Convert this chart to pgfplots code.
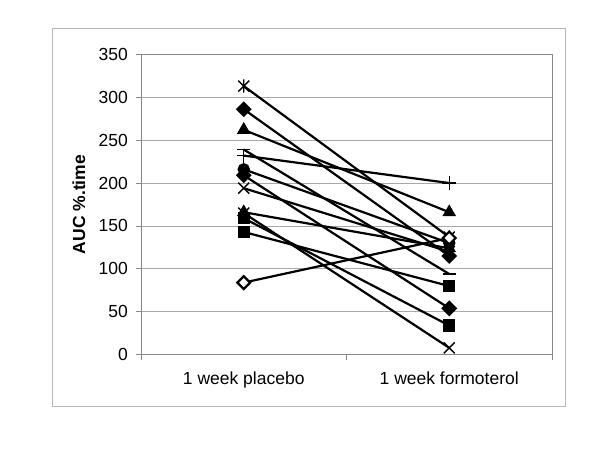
\documentclass[border=0pt]{standalone}
\usepackage{pgfplots}
\pgfplotsset{compat=1.18}
\usepackage{fontspec}
\setmainfont{Liberation Sans}
\pgfdeclareplotmark{xstar}{%
  \pgfpathmoveto{\pgfqpoint{-\pgfplotmarksize}{-\pgfplotmarksize}}%
  \pgfpathlineto{\pgfqpoint{\pgfplotmarksize}{\pgfplotmarksize}}%
  \pgfpathmoveto{\pgfqpoint{-\pgfplotmarksize}{\pgfplotmarksize}}%
  \pgfpathlineto{\pgfqpoint{\pgfplotmarksize}{-\pgfplotmarksize}}%
  \pgfpathmoveto{\pgfqpoint{0pt}{-1.2\pgfplotmarksize}}%
  \pgfpathlineto{\pgfqpoint{0pt}{1.2\pgfplotmarksize}}%
  \pgfusepathqstroke}
\pgfdeclareplotmark{bigx}{%
  \pgfpathmoveto{\pgfqpoint{-\pgfplotmarksize}{-\pgfplotmarksize}}%
  \pgfpathlineto{\pgfqpoint{\pgfplotmarksize}{\pgfplotmarksize}}%
  \pgfpathmoveto{\pgfqpoint{-\pgfplotmarksize}{\pgfplotmarksize}}%
  \pgfpathlineto{\pgfqpoint{\pgfplotmarksize}{-\pgfplotmarksize}}%
  \pgfusepathqstroke}
\definecolor{gridgray}{HTML}{A8A8A8}
\definecolor{axgray}{HTML}{888888}
\definecolor{boxgray}{HTML}{B8B8B8}
\begin{document}
\begin{tikzpicture}
\useasboundingbox (-141pt,-95.3pt) rectangle (459pt,354.7pt);
\draw[boxgray, line width=0.8pt] (-89pt,-51.3pt) rectangle (424pt,326.7pt);
\begin{axis}[
  at={(0,0)}, anchor=south west,
  scale only axis, width=411pt, height=300.4pt,
  xmin=-0.5, xmax=1.5, ymin=0, ymax=350,
  xtick={0,1}, xticklabels={1 week placebo, 1 week formoterol},
  ytick={0,50,...,350},
  xtick style={draw=none},
  extra x ticks={-0.5,0.5,1.5}, extra x tick labels={},
  extra x tick style={xtick style={draw=axgray, line width=0.8pt}, major tick length=5pt, tick align=outside, grid=none},
  ytick style={draw=axgray, line width=0.8pt},
  major tick length=5pt, tick align=outside,
  ymajorgrids, grid style={gridgray, line width=0.8pt},
  axis line style={axgray, line width=0.9pt},
  tick pos=left,
  /pgf/number format/assume math mode=true,
  tick label style={font=\fontsize{17.5}{19}\selectfont},
  yticklabel style={anchor=east, inner sep=0pt, xshift=-8pt},
  xticklabel style={anchor=north, inner sep=0pt, yshift=-11.5pt},
  ylabel={\bfseries AUC \%.time},
  ylabel style={font=\fontsize{17.5}{19}\selectfont, at={(axis description cs:-0.151,0.5)}, anchor=center},
  every axis plot/.append style={black, line width=2.2pt, mark options={solid, line width=1.4pt}},
  clip=false
]
% star
\addplot[mark=xstar, mark size=5.5pt] coordinates {(0,313) (1,137)};
% diamond
\addplot[mark=square*, mark size=4.5pt, mark options={rotate=45}] coordinates {(0,286) (1,115)};
% triangle
\addplot[mark=triangle*, mark size=6.5pt] coordinates {(0,262) (1,166)};
% dash
\addplot[mark=-, mark size=6.5pt] coordinates {(0,239) (1,94)};
% plus
\addplot[mark=+, mark size=7pt] coordinates {(0,232) (1,200)};
% circle
\addplot[mark=*, mark size=5.5pt] coordinates {(0,216) (1,130)};
% diamond
\addplot[mark=square*, mark size=4.5pt, mark options={rotate=45}] coordinates {(0,209) (1,54)};
% x
\addplot[mark=bigx, mark size=5.5pt] coordinates {(0,194) (1,120)};
% triangle
\addplot[mark=triangle*, mark size=6.5pt] coordinates {(0,166) (1,124)};
% x
\addplot[mark=bigx, mark size=5.5pt] coordinates {(0,165) (1,8)};
% square
\addplot[mark=square*, mark size=5.5pt] coordinates {(0,159) (1,34)};
% square
\addplot[mark=square*, mark size=5.5pt] coordinates {(0,143) (1,80)};
% open diamond
\addplot[mark=square*, mark size=4.5pt, mark options={rotate=45, fill=white}] coordinates {(0,84) (1,136)};
\end{axis}
\end{tikzpicture}
\end{document}
